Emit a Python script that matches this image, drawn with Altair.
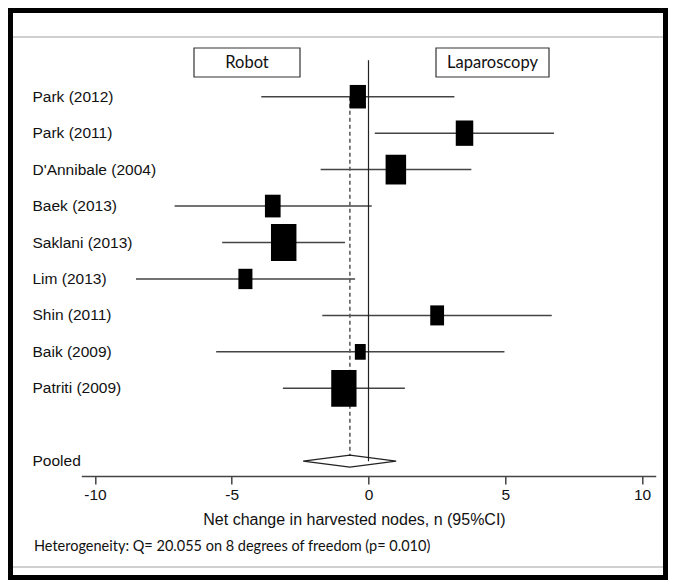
import altair as alt
import pandas as pd

# ---- data ----
studies = ["Park (2012)", "Park (2011)", "D'Annibale (2004)", "Baek (2013)",
           "Saklani (2013)", "Lim (2013)", "Shin (2011)", "Baik (2009)", "Patriti (2009)"]
estimates = [-0.39, 3.51, 1.00, -3.50, -3.10, -4.50, 2.51, -0.30, -0.90]
ci_low = [-3.92, 0.23, -1.75, -7.09, -5.35, -8.50, -1.69, -5.57, -3.13]
ci_high = [3.14, 6.78, 3.76, 0.12, -0.86, -0.49, 6.70, 4.97, 1.33]
weights = [8.7, 10.1, 13.9, 8.1, 21.4, 6.5, 6.3, 3.9, 21.1]
rows = [1, 2, 3, 4, 5, 6, 7, 8, 9]

pooled_label = "Pooled"
pooled_row = 11
pooled_est = -0.68
pooled_low = -2.39
pooled_high = 1.01

x_ticks = [-10, -5, 0, 5, 10]
x_title = "Net change in harvested nodes, n (95%CI)"
het_text = "Heterogeneity: Q= 20.055 on 8 degrees of freedom (p= 0.010)"
left_box_label = "Robot"
right_box_label = "Laparoscopy"

# ---- layout constants ----
W, H = 574.4, 436
PAD = {"left": 73.3, "right": 12.3, "top": 32, "bottom": 104}
dh = 0.165  # diamond half-height in rows
LABEL_FONT = "Liberation Sans"
BOX_FONT = "Lato"

df = pd.DataFrame({"study": studies, "est": estimates, "lo": ci_low,
                   "hi": ci_high, "w": weights, "row": rows})
pool_df = pd.DataFrame({"study": [pooled_label], "row": [pooled_row],
                        "est": [pooled_est], "lo": [pooled_low], "hi": [pooled_high]})
diamond = pd.DataFrame({
    "x": [pooled_low, pooled_est, pooled_high, pooled_est, pooled_low],
    "y": [pooled_row, pooled_row - dh, pooled_row, pooled_row + dh, pooled_row],
    "o": [0, 1, 2, 3, 4],
})
labels_df = pd.concat([df[["study", "row"]], pool_df[["study", "row"]]])

xs = alt.Scale(domain=[-10.5, 10.5], nice=False, zero=False)
ys = alt.Scale(domain=[-0.556, 11.406], reverse=True, nice=False, zero=False)

xaxis = alt.Axis(values=x_ticks, grid=False, domainColor="#444", domainWidth=1.5,
                 tickColor="#444", tickWidth=1.5, tickSize=8,
                 labelExpr="'' + datum.value",
                 labelFont=LABEL_FONT, labelFontSize=15.5, labelColor="#111",
                 labelPadding=3, title=x_title, titleFont=LABEL_FONT,
                 titleFontSize=16, titleFontWeight="normal", titleColor="#111",
                 titleX=272.7, titleY=43, titleBaseline="middle", titleAlign="center")

base = alt.Chart(df)

ci = base.mark_rule(color="#444", strokeWidth=1.5).encode(
    x=alt.X("lo:Q", scale=xs, axis=xaxis),
    x2="hi:Q",
    y=alt.Y("row:Q", scale=ys, axis=None),
)

zero_line = alt.Chart(pool_df).mark_rule(color="#222", strokeWidth=1.2).encode(
    x=alt.X("zero:Q", scale=xs),
    y=alt.Y("top:Q", scale=ys),
    y2="bottom:Q",
).transform_calculate(zero="0", top="0", bottom=f"{pooled_row}")

dashed = alt.Chart(pool_df).mark_rule(color="#555", strokeWidth=1.5, strokeDash=[4, 3]).encode(
    x=alt.X("est:Q", scale=xs),
    y=alt.Y("top:Q", scale=ys),
    y2="bottom:Q",
).transform_calculate(top="1", bottom=f"{pooled_row - dh}")

boxes = base.mark_point(shape="M-0.69,-1L0.69,-1L0.69,1L-0.69,1Z", filled=True,
                        color="black", opacity=1).encode(
    x=alt.X("est:Q", scale=xs),
    y=alt.Y("row:Q", scale=ys),
    size=alt.Size("w:Q", scale=alt.Scale(domain=[0, 100], range=[0, 6368], zero=True),
                  legend=None),
)

diamond_line = alt.Chart(diamond).mark_line(color="#222", strokeWidth=1.3).encode(
    x=alt.X("x:Q", scale=xs),
    y=alt.Y("y:Q", scale=ys),
    order="o:Q",
)

study_text = alt.Chart(labels_df).mark_text(align="left", baseline="middle",
                                            font=LABEL_FONT, fontSize=15.5,
                                            color="#111").encode(
    x=alt.value(-48.8),
    y=alt.Y("row:Q", scale=ys),
    text="study:N",
)

het = alt.Chart(pd.DataFrame({"t": [het_text]})).mark_text(
    align="left", baseline="middle", font=BOX_FONT, fontSize=14.5, color="#111").encode(
    x=alt.value(-47.3), y=alt.value(507), text="t:N")

frame_df = pd.DataFrame({"k": [0]})
frame = alt.Chart(frame_df).mark_rect(fill=None, stroke="black", strokeWidth=5).encode(
    x=alt.value(-PAD["left"] + 2.5), x2=alt.value(W + PAD["right"] - 2.5),
    y=alt.value(-PAD["top"] + 2.5), y2=alt.value(H + PAD["bottom"] - 2.5))

gray_top = alt.Chart(frame_df).mark_rule(color="#d0d0d0", strokeWidth=2).encode(
    x=alt.value(-PAD["left"] + 5), x2=alt.value(W + PAD["right"] - 5), y=alt.value(-3))
gray_bottom = alt.Chart(frame_df).mark_rule(color="#d0d0d0", strokeWidth=2).encode(
    x=alt.value(-PAD["left"] + 5), x2=alt.value(W + PAD["right"] - 5), y=alt.value(527))

hdr = pd.DataFrame({"k": [0]})
robot_box = alt.Chart(hdr).mark_rect(fill="white", stroke="#333", strokeWidth=1.2).encode(
    x=alt.value(112.7), x2=alt.value(218.7), y=alt.value(8), y2=alt.value(37))
lap_box = alt.Chart(hdr).mark_rect(fill="white", stroke="#333", strokeWidth=1.2).encode(
    x=alt.value(354.7), x2=alt.value(467.7), y=alt.value(8), y2=alt.value(37))
robot_txt = alt.Chart(pd.DataFrame({"t": [left_box_label]})).mark_text(
    font=BOX_FONT, fontSize=16.5, color="#111", baseline="middle").encode(
    x=alt.value(165.7), y=alt.value(23), text="t:N")
lap_txt = alt.Chart(pd.DataFrame({"t": [right_box_label]})).mark_text(
    font=BOX_FONT, fontSize=16.5, color="#111", baseline="middle").encode(
    x=alt.value(411.2), y=alt.value(23), text="t:N")

chart = alt.layer(
    ci, zero_line, dashed, boxes, diamond_line, study_text, het,
    gray_top, gray_bottom, robot_box, lap_box, robot_txt, lap_txt, frame
).properties(
    width=W, height=H, padding=PAD,
    autosize=alt.AutoSizeParams(type="none"),
    background="white",
).configure_view(stroke=None)

chart.save("out.html", embed_options={"renderer": "svg", "actions": False})
